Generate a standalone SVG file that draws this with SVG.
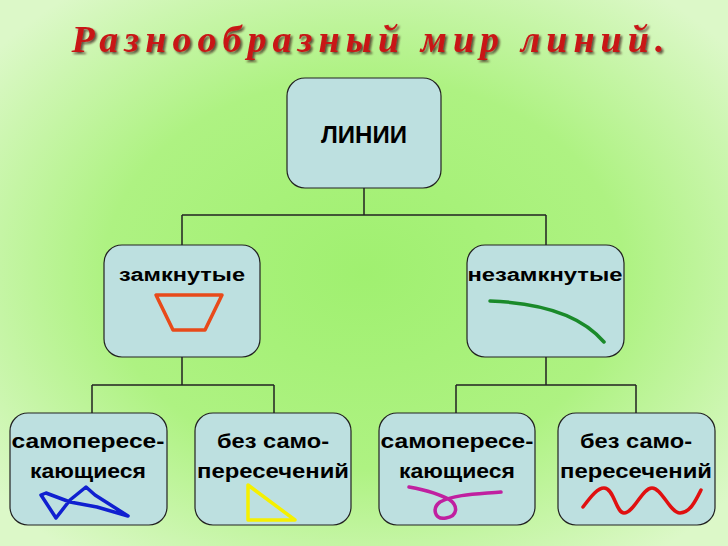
<svg xmlns="http://www.w3.org/2000/svg" width="728" height="546" viewBox="0 0 728 546">
<defs>
<radialGradient id="bg" cx="50%" cy="50%" r="65%">
<stop offset="0" stop-color="#a0f070"/><stop offset="0.55" stop-color="#aef282"/><stop offset="1" stop-color="#dcf8c8"/>
</radialGradient>
<filter id="sh"><feDropShadow dx="2" dy="2" stdDeviation="0.8" flood-color="#301010" flood-opacity="0.7"/></filter>
</defs>
<style>
.box{fill:#bde0e0;stroke:#222;stroke-width:1.2}
.t{font-family:"Liberation Sans",Arial,sans-serif;font-weight:bold;fill:#000;text-anchor:middle}
.c{stroke:#222;stroke-width:1.5;fill:none}
.d{fill:none;stroke-width:3.5;stroke-linejoin:round;stroke-linecap:round}
</style>
<rect width="728" height="546" fill="url(#bg)"/>
<text x="368" y="52" font-family="Liberation Serif,serif" font-style="italic" font-weight="bold" font-size="38" fill="#c81818" text-anchor="middle" textLength="593" lengthAdjust="spacing" filter="url(#sh)">Разнообразный мир линий.</text>
<g id="connectors" class="c">
<path d="M364 188V215M182 215H546M182 215V245M546 215V245"/>
<path d="M182 357V385M92 385H274M92 385V413M274 385V413"/>
<path d="M546 357V385M456 385H636M456 385V413M636 385V413"/>
</g>
<g id="n-lines"><rect class="box" x="287" y="78" width="154" height="110" rx="18"/><text class="t" x="364" y="143" font-size="24">ЛИНИИ</text></g>
<g id="n-closed"><rect class="box" x="104" y="245" width="156" height="112" rx="18"/><text class="t" x="182" y="281" font-size="18" textLength="126" lengthAdjust="spacingAndGlyphs">замкнутые</text>
<polygon class="d" stroke="#e84a1a" stroke-width="3" points="156,295 222,295 205,330 173,330"/></g>
<g id="n-open"><rect class="box" x="467" y="245" width="157" height="112" rx="18"/><text class="t" x="545" y="281" font-size="18" textLength="155" lengthAdjust="spacingAndGlyphs">незамкнутые</text>
<path class="d" stroke="#1a8a2a" d="M490 301Q572 304 604 342"/></g>
<g id="n-b1"><rect class="box" x="10" y="413" width="157" height="112" rx="18"/>
<text class="t" x="88" y="448" font-size="20" textLength="153" lengthAdjust="spacingAndGlyphs">самопересе-</text>
<text class="t" x="88" y="478" font-size="20" textLength="116" lengthAdjust="spacingAndGlyphs">кающиеся</text>
<polygon class="d" stroke="#1020d0" stroke-width="3" points="41,495 56,518 70,500 86,487 95,495 128,516 97,507 70,502 46,493"/></g>
<g id="n-b2"><rect class="box" x="195" y="413" width="156" height="112" rx="18"/>
<text class="t" x="273" y="448" font-size="20" textLength="112" lengthAdjust="spacingAndGlyphs">без само-</text>
<text class="t" x="273" y="478" font-size="20" textLength="152" lengthAdjust="spacingAndGlyphs">пересечений</text>
<polygon class="d" stroke="#f5f000" points="248,485 248,520 295,520"/></g>
<g id="n-b3"><rect class="box" x="379" y="413" width="156" height="112" rx="18"/>
<text class="t" x="457" y="448" font-size="20" textLength="153" lengthAdjust="spacingAndGlyphs">самопересе-</text>
<text class="t" x="457" y="478" font-size="20" textLength="116" lengthAdjust="spacingAndGlyphs">кающиеся</text>
<path class="d" stroke="#c020a0" d="M409 487C425 490 440 494 450 500C458 506 458 516 446 518C434 520 432 508 440 502C455 494 480 494 501 492"/></g>
<g id="n-b4"><rect class="box" x="558" y="413" width="157" height="112" rx="18"/>
<text class="t" x="636" y="448" font-size="20" textLength="112" lengthAdjust="spacingAndGlyphs">без само-</text>
<text class="t" x="636" y="478" font-size="20" textLength="152" lengthAdjust="spacingAndGlyphs">пересечений</text>
<path class="d" stroke="#e01010" d="M583 507C592 495 598 488 604 488C614 488 616 513 624 513C634 513 642 488 652 488C662 488 670 513 680 513C690 513 696 500 701 490"/></g>
</svg>
